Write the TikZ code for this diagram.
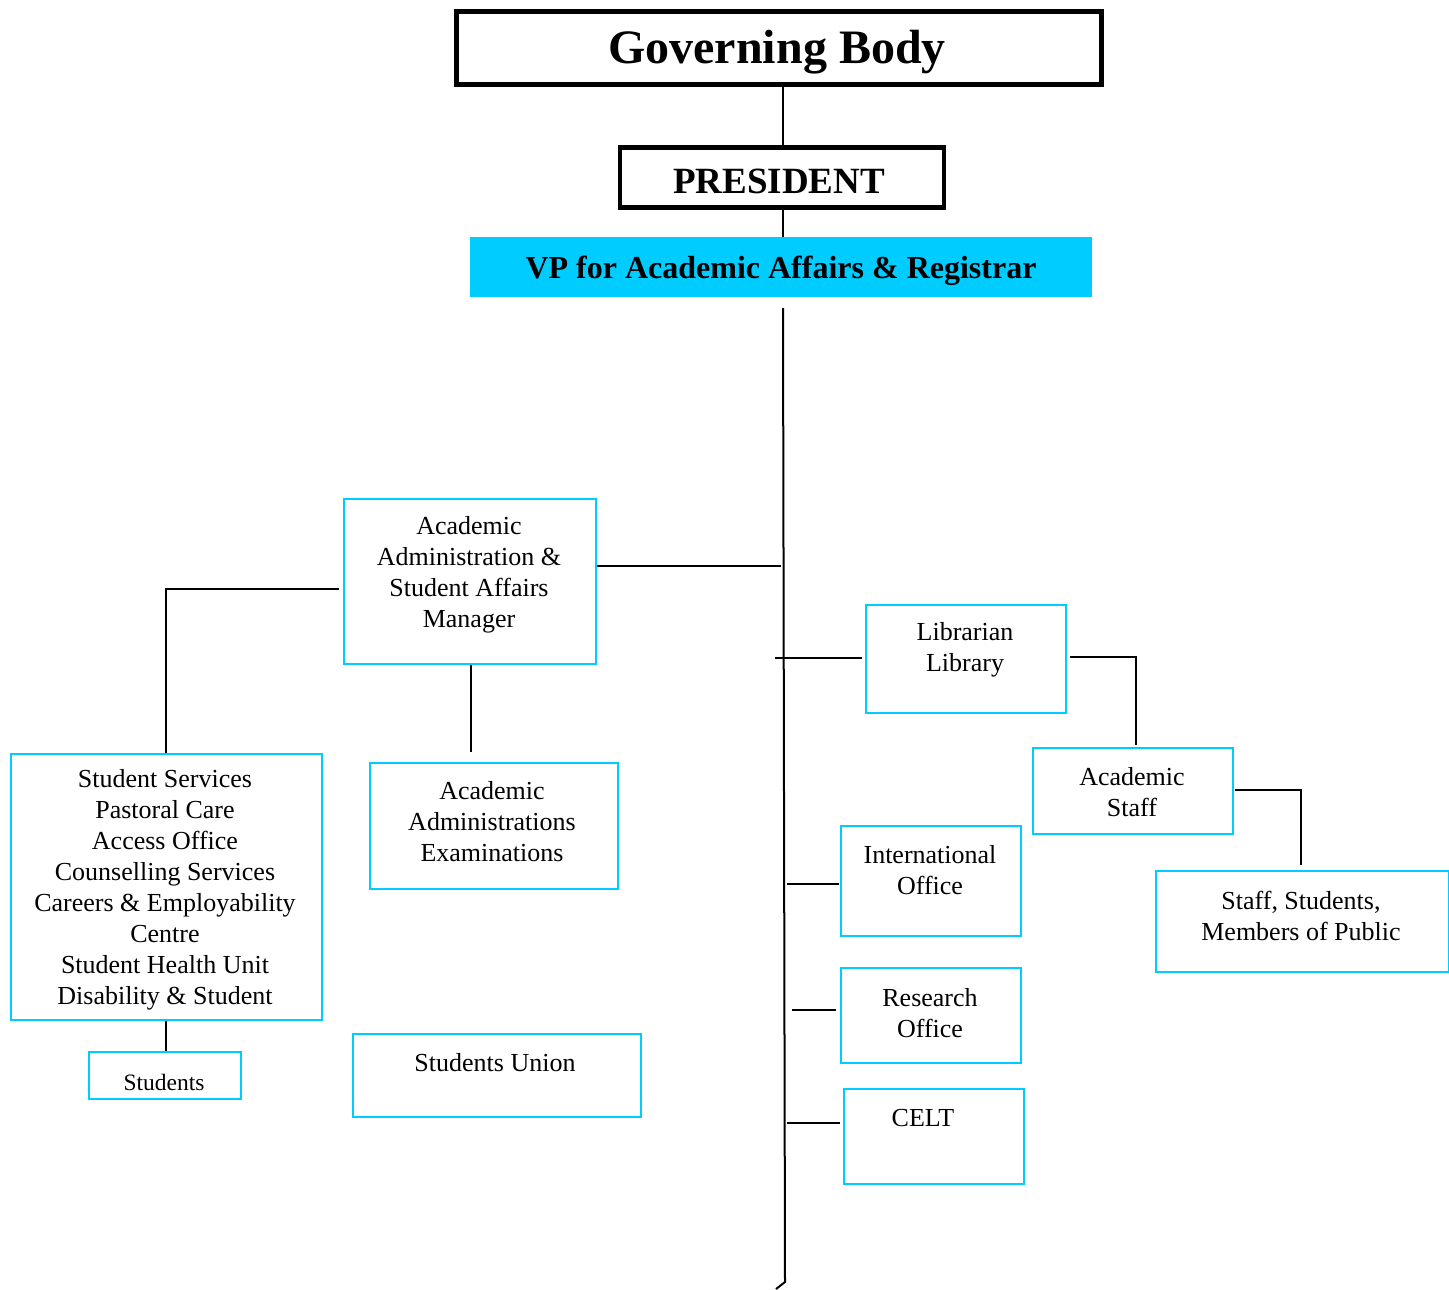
\documentclass[tikz,border=0pt]{standalone}
\usepackage{fontspec}
\setmainfont{Liberation Serif}
\definecolor{cy}{RGB}{0,204,255}
\begin{document}
\begin{tikzpicture}[x=1pt,y=-1pt,
  box/.style={draw=cy,line width=2pt,inner sep=0pt,anchor=north west},
  blackbox/.style={draw=black,inner sep=0pt,anchor=north west},
  txt/.style={inner sep=0pt,align=center,yshift=-3pt,font=\fontsize{26}{31}\selectfont},
  conn/.style={draw=black,line width=2pt}]
\useasboundingbox (0,0) rectangle (1449,1290);
% top boxes
\node[blackbox,line width=5pt,minimum width=645pt,minimum height=73pt] (gb) at (454,9) {};
\node[inner sep=0pt,yshift=-4pt,font=\fontsize{48}{50}\bfseries] (gbt) at (777,48) {Governing Body};
\node[blackbox,line width=4.5pt,minimum width=324pt,minimum height=60pt] (pres) at (617.5,145) {};
\node[inner sep=0pt,yshift=-2pt,font=\fontsize{37}{40}\bfseries] (prest) at (779,179) {PRESIDENT};
\node[fill=cy,inner sep=0pt,anchor=north west,minimum width=622pt,minimum height=60pt] (vp) at (470,237) {};
\node[inner sep=0pt,yshift=-3pt,font=\fontsize{32}{34}\bfseries] (vpt) at (781,268) {VP for Academic Affairs \& Registrar};
% trunk coordinates
\coordinate (t0) at (783,308);
\coordinate (t1) at (785,1282);
\coordinate (t2) at (776,1289);
\draw[conn,line width=1.6pt] (gb.south -| t0) -- (pres.north -| t0);
\draw[conn,line width=1.6pt] (pres.south -| t0) -- (vp.north -| t0);
\draw[conn] (t0) -- (t1) -- (t2);
% left side
\node[box,minimum width=252pt,minimum height=165pt] (aam) at (343,498) {};
\node[txt] (aamt) at (469,572) {Academic\\Administration \&\\Student Affairs\\Manager};
\node[box,minimum width=311pt,minimum height=266pt] (ss) at (9.5,753) {};
\node[txt] (sst) at (165,887) {Student Services\\Pastoral Care\\Access Office\\Counselling Services\\Careers \& Employability\\Centre\\Student Health Unit\\Disability \& Student};
\node[box,minimum width=152pt,minimum height=47pt] (stu) at (88,1051) {};
\node[txt,font=\fontsize{23.5}{28}\selectfont] (stut) at (164,1079) {Students};
\node[box,minimum width=248pt,minimum height=126pt] (aae) at (368.5,762) {};
\node[txt] (aaet) at (492,819) {Academic\\Administrations\\Examinations};
\node[box,minimum width=288pt,minimum height=83pt] (su) at (351.5,1033) {};
\node[txt] (sut) at (495,1060) {Students Union};
\coordinate (a1) at (781,566);
\coordinate (a2) at (339,589);
\coordinate (a3) at (471,752);
\draw[conn] (a1 -| aam.east) -- (a1);
\draw[conn] (a2) -- (a2 -| ss.north) -- (ss.north);
\draw[conn] (a3 |- aam.south) -- (a3);
\draw[conn] (ss.south) -- (ss.south |- stu.north);
% right side
\node[box,minimum width=200pt,minimum height=108pt] (lib) at (865,604) {};
\node[txt] (libt) at (965,647) {Librarian\\Library};
\node[box,minimum width=200pt,minimum height=86pt] (as) at (1032,747) {};
\node[txt] (ast) at (1132,789) {Academic\\Staff};
\node[box,minimum width=293pt,minimum height=101pt] (sp) at (1155,870) {};
\node[txt] (spt) at (1301,913) {Staff, Students,\\Members of Public};
\node[box,minimum width=180pt,minimum height=110pt] (io) at (840,825) {};
\node[txt] (iot) at (930,867) {International\\Office};
\node[box,minimum width=180pt,minimum height=95pt] (ro) at (840,967) {};
\node[txt] (rot) at (930,1010) {Research\\Office};
\node[box,minimum width=180pt,minimum height=95pt] (celt) at (843,1088) {};
\node[txt] (celtt) at (923,1115) {CELT};
\coordinate (l0) at (775,658);
\coordinate (l1) at (1070,657);
\coordinate (l2) at (1136,745);
\coordinate (s1) at (1235,790);
\coordinate (s2) at (1301,865);
\coordinate (i0) at (787,884);
\coordinate (r0) at (792,1010);
\coordinate (c0) at (787,1123);
\draw[conn] (l0) -- ([xshift=-3pt]l0 -| lib.west);
\draw[conn] (l1) -| (l2);
\draw[conn] (s1) -| (s2);
\draw[conn] (i0) -- ([xshift=-1pt]i0 -| io.west);
\draw[conn] (r0) -- ([xshift=-4pt]r0 -| ro.west);
\draw[conn] (c0) -- ([xshift=-3pt]c0 -| celt.west);
\end{tikzpicture}
\end{document}
